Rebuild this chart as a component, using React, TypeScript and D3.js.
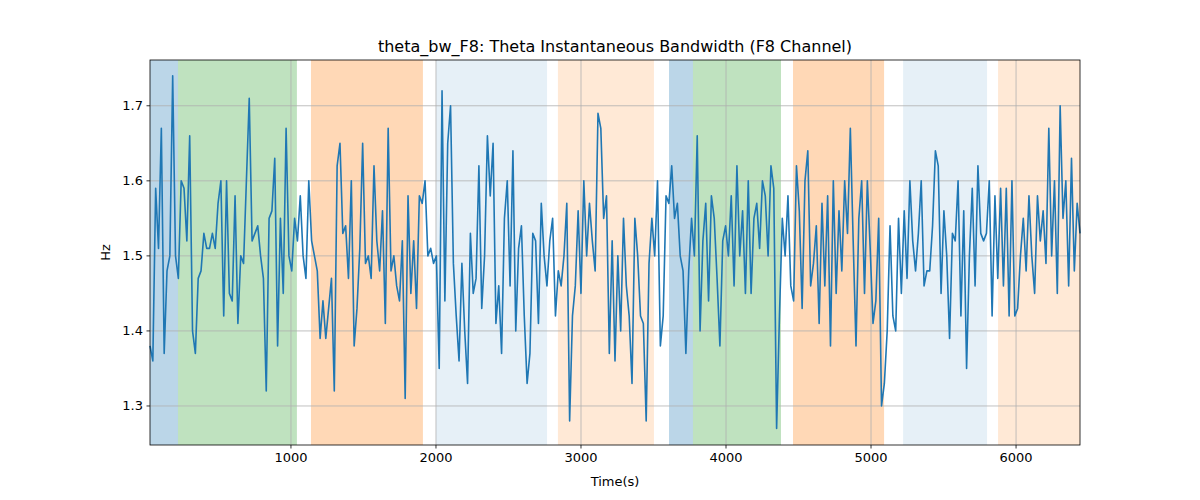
import React from 'react';
import * as d3 from 'd3';

const values: number[] = [
  1.38,1.36,1.59,1.51,1.67,1.37,1.48,1.50,1.74,1.50,1.47,1.60,1.59,1.52,1.66,1.40,1.37,1.47,1.48,1.53,1.51,1.51,1.53,1.51,1.57,1.60,1.42,1.60,1.45,1.44,1.58,1.41,1.50,1.49,1.60,1.71,1.52,1.53,1.54,1.50,1.47,1.32,1.55,1.56,1.63,1.38,1.55,1.45,1.67,1.50,1.48,1.55,1.52,1.58,1.50,1.47,1.60,1.52,1.50,1.48,1.39,1.44,1.39,1.43,1.47,1.32,1.62,1.65,1.53,1.54,1.47,1.60,1.38,1.43,1.51,1.65,1.49,1.50,1.47,1.62,1.52,1.48,1.56,1.41,1.67,1.48,1.50,1.46,1.44,1.52,1.31,1.58,1.45,1.52,1.43,1.58,1.57,1.60,1.50,1.51,1.49,1.50,1.35,1.72,1.44,1.65,1.70,1.49,1.42,1.36,1.49,1.40,1.33,1.53,1.45,1.47,1.62,1.43,1.50,1.66,1.58,1.65,1.41,1.46,1.37,1.55,1.60,1.46,1.64,1.40,1.51,1.54,1.42,1.33,1.37,1.53,1.52,1.41,1.57,1.50,1.46,1.52,1.55,1.42,1.48,1.46,1.50,1.57,1.28,1.42,1.46,1.56,1.45,1.60,1.50,1.57,1.52,1.48,1.69,1.67,1.55,1.58,1.37,1.52,1.36,1.50,1.40,1.55,1.46,1.42,1.33,1.55,1.50,1.42,1.41,1.28,1.49,1.55,1.50,1.60,1.38,1.42,1.58,1.57,1.62,1.55,1.57,1.50,1.48,1.37,1.48,1.55,1.50,1.66,1.40,1.52,1.57,1.44,1.58,1.55,1.47,1.38,1.52,1.54,1.50,1.58,1.46,1.62,1.50,1.56,1.45,1.60,1.45,1.55,1.57,1.51,1.60,1.58,1.50,1.62,1.59,1.27,1.42,1.55,1.50,1.58,1.46,1.44,1.62,1.56,1.43,1.60,1.64,1.46,1.49,1.54,1.41,1.57,1.46,1.58,1.38,1.60,1.45,1.56,1.48,1.60,1.53,1.67,1.52,1.38,1.55,1.60,1.45,1.60,1.51,1.41,1.44,1.55,1.30,1.33,1.40,1.54,1.42,1.40,1.55,1.45,1.56,1.47,1.60,1.52,1.48,1.53,1.60,1.46,1.48,1.48,1.54,1.64,1.62,1.45,1.56,1.50,1.39,1.53,1.52,1.60,1.42,1.56,1.35,1.50,1.59,1.46,1.62,1.53,1.52,1.53,1.60,1.42,1.58,1.47,1.59,1.46,1.59,1.42,1.60,1.42,1.43,1.50,1.55,1.48,1.58,1.50,1.45,1.58,1.52,1.56,1.49,1.67,1.50,1.60,1.45,1.70,1.55,1.60,1.46,1.63,1.48,1.57,1.53,
];
const tStart = 28;
const tEnd = 6441;

const spans: { x0: number; x1: number; color: string; alpha: number }[] = [
  { x0: 28, x1: 221, color: '#1f77b4', alpha: 0.3 },
  { x0: 221, x1: 1041, color: '#2ca02c', alpha: 0.3 },
  { x0: 1138, x1: 1910, color: '#ff7f0e', alpha: 0.3 },
  { x0: 2000, x1: 2766, color: '#1f77b4', alpha: 0.11 },
  { x0: 2841, x1: 3503, color: '#ff7f0e', alpha: 0.17 },
  { x0: 3607, x1: 3772, color: '#1f77b4', alpha: 0.3 },
  { x0: 3772, x1: 4379, color: '#2ca02c', alpha: 0.3 },
  { x0: 4462, x1: 5090, color: '#ff7f0e', alpha: 0.3 },
  { x0: 5221, x1: 5800, color: '#1f77b4', alpha: 0.11 },
  { x0: 5876, x1: 6441, color: '#ff7f0e', alpha: 0.17 },
];

const xTicks = [1000, 2000, 3000, 4000, 5000, 6000];
const yTicks = [1.3, 1.4, 1.5, 1.6, 1.7];

const App = () => {
  const left = 150, right = 1080, top = 60, bottom = 445;
  const x = d3.scaleLinear().domain([tStart, tEnd]).range([left, right]);
  const y = d3.scaleLinear().domain([1.248, 1.761]).range([bottom, top]);
  const step = (tEnd - tStart) / (values.length - 1);
  const line = d3
    .line<number>()
    .x((_, i) => x(tStart + i * step))
    .y((d) => y(d));

  return (
    <svg width={1200} height={500} style={{ position: 'absolute', left: 0, top: 0 }}
      fontFamily="DejaVu Sans, sans-serif">
      <rect width={1200} height={500} fill="#fff" />
      {spans.map((s, i) => (
        <rect key={i} x={x(s.x0)} y={top} width={x(s.x1) - x(s.x0)} height={bottom - top}
          fill={s.color} fillOpacity={s.alpha} />
      ))}
      {xTicks.map((t) => (
        <g key={t}>
          <line x1={x(t)} x2={x(t)} y1={top} y2={bottom} stroke="#b0b0b0" strokeWidth={0.8} />
          <line x1={x(t)} x2={x(t)} y1={bottom} y2={bottom + 3.5} stroke="#000" strokeWidth={0.8} />
          <text x={x(t)} y={bottom + 17} textAnchor="middle" fontSize={13}>{t}</text>
        </g>
      ))}
      {yTicks.map((t) => (
        <g key={t}>
          <line x1={left} x2={right} y1={y(t)} y2={y(t)} stroke="#b0b0b0" strokeWidth={0.8} />
          <line x1={left - 3.5} x2={left} y1={y(t)} y2={y(t)} stroke="#000" strokeWidth={0.8} />
          <text x={left - 7} y={y(t) + 4.5} textAnchor="end" fontSize={13}>{t.toFixed(1)}</text>
        </g>
      ))}
      <path d={line(values) || ''} fill="none" stroke="#1f77b4" strokeWidth={1.6}
        strokeLinejoin="round" />
      <rect x={left} y={top} width={right - left} height={bottom - top} fill="none"
        stroke="#000" strokeWidth={0.8} />
      <text x={(left + right) / 2} y={top - 8} textAnchor="middle" fontSize={16}>
        theta_bw_F8: Theta Instantaneous Bandwidth (F8 Channel)
      </text>
      <text x={(left + right) / 2} y={486} textAnchor="middle" fontSize={13}>Time(s)</text>
      <text transform={`translate(110,${(top + bottom) / 2}) rotate(-90)`} textAnchor="middle"
        fontSize={13}>Hz</text>
    </svg>
  );
};

export default App;
